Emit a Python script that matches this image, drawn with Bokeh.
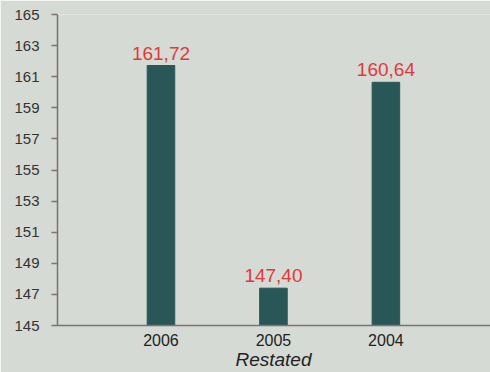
from bokeh.plotting import figure
from bokeh.models import Range1d, FixedTicker, LinearAxis, ColumnDataSource
from bokeh.core.properties import value
from bokeh.embed import file_html
from bokeh.resources import INLINE

years = ["2006", "2005", "2004"]
values = [161.72, 147.40, 160.64]
value_labels = ["161,72", "147,40", "160,64"]
y_ticks = [145, 147, 149, 151, 153, 155, 157, 159, 161, 163, 165]
sub_label = "Restated"

BG = "#d5dad4"
BAR = "#295757"
RED = "#e0393b"
AXIS = "#7d7171"
FONT = "Liberation Sans"

xs = list(range(1, len(years) + 1))
src = ColumnDataSource(dict(x=xs, top=values, lab=value_labels))

p = figure(width=490, height=372, output_backend="svg", toolbar_location=None,
           x_range=Range1d(0.08, 3.93), y_range=Range1d(145, 165),
           min_border_left=57, min_border_right=0, min_border_top=14, min_border_bottom=47)
p.background_fill_color = BG
p.border_fill_color = BG
p.outline_line_color = None
p.grid.visible = False

p.vbar(x="x", top="top", bottom=145, width=0.245, source=src,
       fill_color=BAR, line_color=BAR)
p.text(x="x", y="top", text="lab", source=src, text_align="center",
       text_baseline="bottom", y_offset=-6, text_color=RED,
       text_font=value(FONT), text_font_size="19px")

p.xaxis.ticker = FixedTicker(ticks=xs)
p.xaxis.major_label_overrides = {x: y for x, y in zip(xs, years)}
p.xaxis.major_tick_out = 0
p.xaxis.major_tick_in = 0
p.xaxis.minor_tick_line_color = None
p.xaxis.axis_line_color = AXIS
p.xaxis.axis_line_width = 1.5
p.xaxis.major_label_text_font = FONT
p.xaxis.major_label_text_font_size = "16px"
p.xaxis.major_label_text_color = "#222222"
p.xaxis.major_label_standoff = 8

sub_axis = LinearAxis(ticker=FixedTicker(ticks=[xs[1]]),
                      major_label_overrides={xs[1]: sub_label},
                      axis_line_color=None, major_tick_line_color=None,
                      minor_tick_line_color=None, major_tick_out=0, major_tick_in=0,
                      major_label_standoff=0,
                      major_label_text_font=FONT, major_label_text_font_style="italic",
                      major_label_text_font_size="19px",
                      major_label_text_color="#222222")
p.add_layout(sub_axis, "below")

p.yaxis.ticker = FixedTicker(ticks=y_ticks)
p.yaxis.major_tick_out = 6
p.yaxis.major_tick_in = 0
p.yaxis.minor_tick_line_color = None
p.yaxis.axis_line_color = AXIS
p.yaxis.axis_line_width = 1.5
p.yaxis.major_tick_line_color = AXIS
p.yaxis.major_tick_line_width = 1.5
p.yaxis.major_label_text_font = FONT
p.yaxis.major_label_text_font_size = "15px"
p.yaxis.major_label_text_color = "#333333"
p.yaxis.major_label_standoff = 12

open("out.html", "w").write(file_html(p, INLINE))
